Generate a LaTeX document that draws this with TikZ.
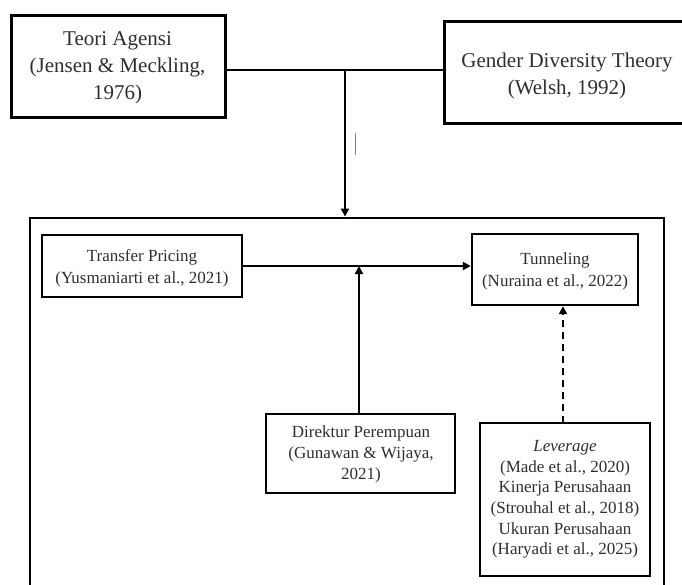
\documentclass[tikz,border=0pt]{standalone}
\usepackage{fontspec}
\setmainfont{Liberation Serif}
\usetikzlibrary{arrows.meta}
\begin{document}
\begin{tikzpicture}[x=1pt,y=-1pt,
  bigbox/.style={draw, line width=3pt, rectangle, inner sep=0pt},
  smallbox/.style={draw, line width=2.4pt, rectangle, inner sep=0pt},
  bigtxt/.style={inner sep=0pt, align=center, text=black!82, font=\fontsize{21}{26.7}\selectfont},
  smalltxt/.style={inner sep=0pt, align=center, text=black!82, font=\fontsize{17}{21.2}\selectfont},
  levtxt/.style={inner sep=0pt, align=center, text=black!82, font=\fontsize{17}{20.7}\selectfont},
  conn/.style={line width=2.4pt},
  arr/.style={line width=2.2pt, -{Triangle[width=8pt,length=8pt]}}]
\useasboundingbox (0,0) rectangle (682,585);
\clip (0,0) rectangle (682,585);
% top boxes
\node[bigbox, minimum width=214pt, minimum height=102pt] (teori) at (118,66.5) {};
\node[bigtxt] (teoriT) at (117.5,67.8) {Teori Agensi\\(Jensen \& Meckling,\\1976)};
\node[bigbox, minimum width=248pt, minimum height=102pt] (gender) at (568,73) {};
\node[bigtxt] (genderT) at (567,75.8) {Gender Diversity Theory\\(Welsh, 1992)};
% frame
\node[draw, line width=2.8pt, rectangle, inner sep=0pt, minimum width=634pt, minimum height=420pt] (frame) at (347,428) {};
\coordinate (j) at (345,70);
\draw[conn] (teori.east |- j) -- (j) -- (gender.west |- j);
\draw[arr] (j) -- (frame.north -| j);
\draw[gray, line width=0.8pt] (355,133) -- (355,155);
% inner boxes
\node[smallbox, minimum width=200pt, minimum height=62pt] (transfer) at (142,266) {};
\node[smalltxt] (transferT) at (142,268.3) {Transfer Pricing\\(Yusmaniarti et al., 2021)};
\node[smallbox, minimum width=166pt, minimum height=71pt] (tunnel) at (555,269.5) {};
\node[smalltxt] (tunnelT) at (555,271.5) {Tunneling\\(Nuraina et al., 2022)};
\node[smallbox, minimum width=189pt, minimum height=79pt] (direktur) at (360.5,453.3) {};
\node[smalltxt] (direkturT) at (361,454.4) {Direktur Perempuan\\(Gunawan \& Wijaya,\\2021)};
\node[smallbox, minimum width=170pt, minimum height=153pt] (lev) at (565,499.5) {};
\node[levtxt] (levT) at (565,499.4) {\textit{Leverage}\\(Made et al., 2020)\\Kinerja Perusahaan\\(Strouhal et al., 2018)\\Ukuran Perusahaan\\(Haryadi et al., 2025)};
% connectors
\coordinate (d) at (359,413);
\draw[arr] (transfer.east) -- (tunnel.west |- transfer.east);
\draw[arr] (d) -- (d |- transfer.east);
\coordinate (l) at (563,423);
\draw[arr, dashed, dash pattern=on 7pt off 5pt] (l) -- (l |- tunnel.south);
\end{tikzpicture}
\end{document}
